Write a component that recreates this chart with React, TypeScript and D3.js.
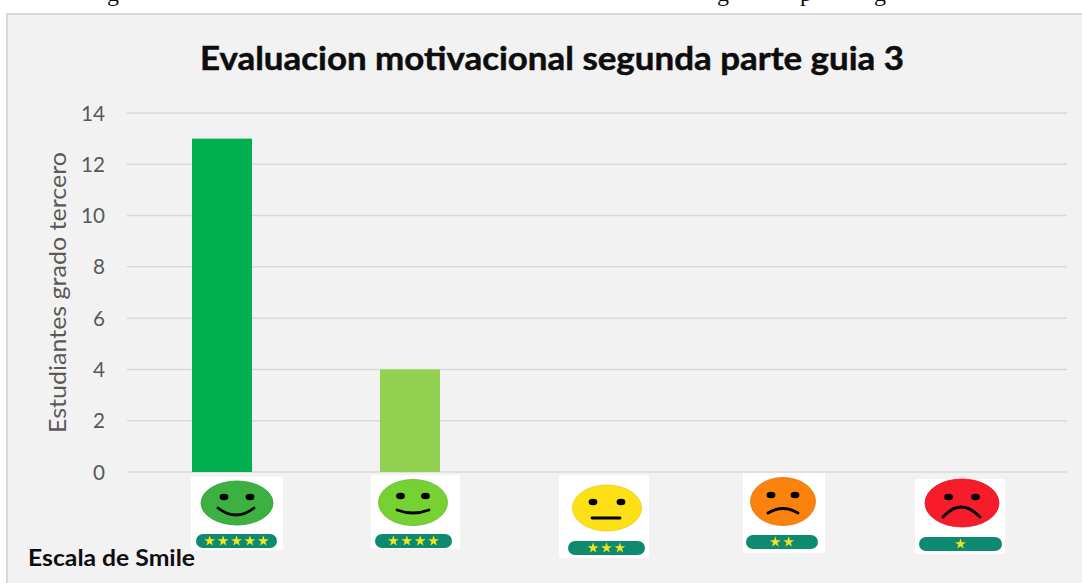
import React from "react";
import * as d3 from "d3";

const categories = ["5 estrellas", "4 estrellas", "3 estrellas", "2 estrellas", "1 estrella"];
const students = [13, 4, 0, 0, 0];
const barColors = ["#00b050", "#92d050", "#ffc000", "#f58220", "#ff0000"];
const yTicks = [0, 2, 4, 6, 8, 10, 12, 14];
const titleText = "Evaluacion motivacional segunda parte guia 3";
const yLabel = "Estudiantes grado tercero";
const xLabel = "Escala de Smile";
const clippedLetters = [
  { t: "g", x: 113 },
  { t: "g", x: 723 },
  { t: "p", x: 806 },
  { t: "g", x: 880 },
];

type Icon = {
  box: number[]; face: number[]; pill: number[];
  fill: string; stroke: string; stars: number; mouth: string; eyeY: number; eyeDx: number;
};
const icons: Icon[] = [
  { box: [191, 477, 92, 73], face: [237, 503, 36, 22], pill: [196, 534, 81, 14], fill: "#3cb043", stroke: "#2e9a3a", stars: 5, mouth: "M218 508 Q236 522 254 508", eyeY: 497, eyeDx: 13 },
  { box: [371, 475, 89, 74], face: [413, 502.5, 34.5, 23], pill: [375, 534, 77, 14], fill: "#76d132", stroke: "#63b82a", stars: 4, mouth: "M397 510 Q413 516 429 510", eyeY: 496, eyeDx: 12.5 },
  { box: [559, 475, 90, 83], face: [607, 508, 34.5, 23], pill: [568, 541, 77, 14], fill: "#fde115", stroke: "#e8cc10", stars: 3, mouth: "M592 518 L620 518", eyeY: 502, eyeDx: 14 },
  { box: [743, 473, 82, 80], face: [783, 501.5, 32.5, 24], pill: [746, 535, 72, 14], fill: "#fb8311", stroke: "#e0750d", stars: 2, mouth: "M768 513 Q783 504 798 513", eyeY: 495, eyeDx: 12 },
  { box: [915, 479, 90, 75], face: [962, 503, 37, 24], pill: [919, 537, 83, 14], fill: "#f61c2b", stroke: "#d91522", stars: 1, mouth: "M943 517 Q961 497 980 517", eyeY: 497, eyeDx: 13.5 },
];

const starPath = d3.symbol().type(d3.symbolStar).size(36)();

function Smile({ icon }: { icon: Icon }) {
  const [bx, by, bw, bh] = icon.box;
  const [fx, fy, rx, ry] = icon.face;
  const [px, py, pw, ph] = icon.pill;
  const cx = px + pw / 2;
  const gap = 13.4;
  return (
    <g>
      <rect x={bx} y={by} width={bw} height={bh} fill="#ffffff" />
      <g filter="url(#soft)">
        <ellipse cx={fx} cy={fy} rx={rx} ry={ry} fill={icon.fill} stroke={icon.stroke} strokeWidth={0.8} />
        <ellipse cx={fx - icon.eyeDx} cy={icon.eyeY} rx={4.4} ry={3.2} fill="#000" />
        <ellipse cx={fx + icon.eyeDx} cy={icon.eyeY} rx={4.4} ry={3.2} fill="#000" />
        <path d={icon.mouth} fill="none" stroke="#000" strokeWidth={2.8} strokeLinecap="round" />
        <rect x={px} y={py} width={pw} height={ph} rx={7} fill="#0f8a70" />
        {d3.range(icon.stars).map((i) => (
          <path
            key={i}
            d={starPath as string}
            transform={`translate(${cx + (i - (icon.stars - 1) / 2) * gap},${py + ph / 2})`}
            fill="#f4e41c"
          />
        ))}
      </g>
    </g>
  );
}

export default function App() {
  const x = d3.scaleBand<string>().domain(categories).range([128, 1068]);
  const y = d3.scaleLinear().domain([0, 14]).range([472, 113]);
  const barW = 60;
  return (
    <svg
      width={1082}
      height={583}
      style={{ position: "absolute", left: 0, top: 0, display: "block", background: "#ffffff" }}
      fontFamily="Lato, Carlito, sans-serif"
    >
      <defs>
        <filter id="soft" x="-5%" y="-5%" width="110%" height="110%">
          <feGaussianBlur stdDeviation="0.45" />
        </filter>
      </defs>
      {clippedLetters.map((d, i) => (
        <text key={i} x={d.x} y={1} textAnchor="middle" fontFamily="Liberation Serif" fontSize={24} fill="#111">
          {d.t}
        </text>
      ))}
      <rect x={7} y={14} width={1090} height={580} fill="#f2f2f2" stroke="#d9d9d9" strokeWidth={2} />
      <text
        x={552}
        y={70}
        textAnchor="middle"
        fontSize={32.5}
        fontWeight={700}
        fill="#0d0d0d"
        stroke="#0d0d0d"
        strokeWidth={0.5}
        textLength={704}
        lengthAdjust="spacingAndGlyphs"
      >
        {titleText}
      </text>
      {yTicks.map((t) => (
        <g key={t}>
          <line x1={127} x2={1067} y1={y(t)} y2={y(t)} stroke="#d9d9d9" strokeWidth={1.5} />
          <text x={105} y={y(t) + 7.5} textAnchor="end" fontSize={21} fill="#595959" textLength={t >= 10 ? 24 : 12} lengthAdjust="spacingAndGlyphs">
            {t}
          </text>
        </g>
      ))}
      <text
        transform="translate(66,292.5) rotate(-90)"
        textAnchor="middle"
        fontSize={23.5}
        fill="#595959"
        textLength={281}
        lengthAdjust="spacingAndGlyphs"
      >
        {yLabel}
      </text>
      {categories.map((c, i) =>
        students[i] > 0 ? (
          <rect
            key={c}
            x={x(c)! + x.bandwidth() / 2 - barW / 2}
            y={y(students[i])}
            width={barW}
            height={y(0) - y(students[i])}
            fill={barColors[i]}
          />
        ) : null
      )}
      {icons.map((ic, i) => (
        <Smile key={i} icon={ic} />
      ))}
      <text
        x={28}
        y={566}
        fontSize={22}
        fontWeight={700}
        fill="#0d0d0d"
        textLength={167}
        lengthAdjust="spacingAndGlyphs"
      >
        {xLabel}
      </text>
    </svg>
  );
}
